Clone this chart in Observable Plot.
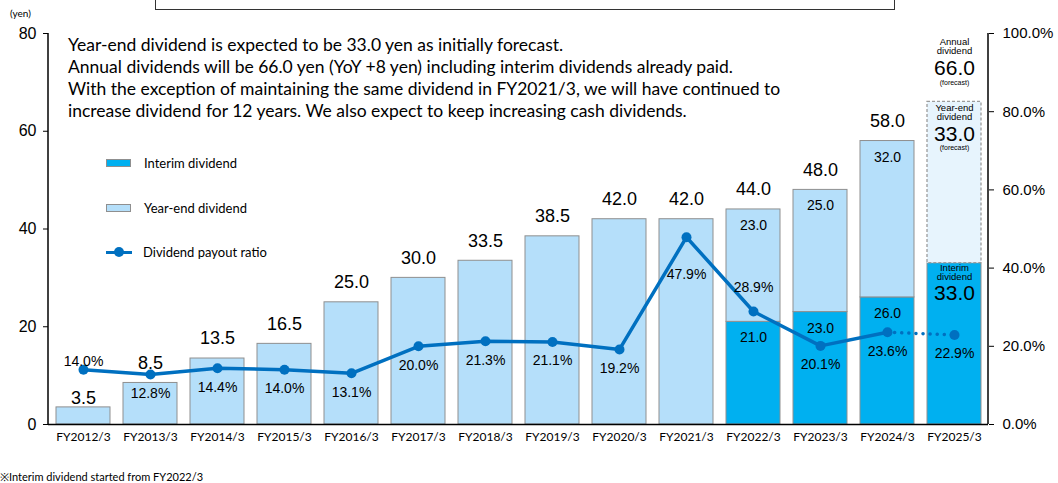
<!DOCTYPE html>
<html><head><meta charset="utf-8">
<script src="https://cdn.jsdelivr.net/npm/d3@7"></script>
<script src="https://cdn.jsdelivr.net/npm/@observablehq/plot@0.6"></script>
<style>
body{margin:0;background:#fff;}
#wrap{position:relative;width:1058px;height:483px;overflow:hidden;font-family:Lato,"Open Sans",sans-serif;color:#000;}
#chart{position:absolute;left:0;top:0;}
.ov{position:absolute;white-space:nowrap;}
#note{left:68px;top:34px;font-size:17.5px;line-height:22px;}
#yen{left:10px;top:7px;font-size:10px;}
#topbox{left:155px;top:-30px;width:738px;height:38px;border:1.5px solid #333;}
#foot{left:0;top:469px;font-size:11px;}
.leg{position:absolute;left:106px;font-size:13px;display:flex;align-items:center;}
.sw{width:23px;height:6px;border:1px solid #8f8f8f;margin-right:13px;}
.ln{position:relative;width:26px;height:3px;background:#0070C0;margin-right:11px;}
.ln::after{content:"";position:absolute;left:8px;top:-3.5px;width:10px;height:10px;border-radius:50%;background:#0070C0;}
</style></head><body><div id="wrap"></div>
<script>
const years = ["FY2012/3","FY2013/3","FY2014/3","FY2015/3","FY2016/3","FY2017/3","FY2018/3","FY2019/3","FY2020/3","FY2021/3","FY2022/3","FY2023/3","FY2024/3","FY2025/3"];
const interimDividend = [0,0,0,0,0,0,0,0,0,0,21,23,26,33];
const yearEndDividend = [3.5,8.5,13.5,16.5,25,30,33.5,38.5,42,42,23,25,32,33];
const payoutRatio = [14.0,12.8,14.4,14.0,13.1,20.0,21.3,21.1,19.2,47.9,28.9,20.1,23.6,22.9];
const forecastYear = "FY2025/3";
const leftTicks = [0,20,40,60,80];
const rightTicksPct = [0,20,40,60,80,100];
const noteLines = [
  "Year-end dividend is expected to be 33.0 yen as initially forecast.",
  "Annual dividends will be 66.0 yen (YoY +8 yen) including interim dividends already paid.",
  "With the exception of maintaining the same dividend in FY2021/3, we will have continued to",
  "increase dividend for 12 years. We also expect to keep increasing cash dividends."
];
const legendLabels = ["Interim dividend","Year-end dividend","Dividend payout ratio"];
const footnote = "※Interim dividend started from FY2022/3";

const PCT = 80/100; // right axis 100% aligns with left 80 yen
const rows = years.map((year,i)=>({
  year, i,
  interim: interimDividend[i],
  yearEnd: yearEndDividend[i],
  total: interimDividend[i] + yearEndDividend[i],
  payout: payoutRatio[i],
  py: payoutRatio[i]*PCT,
  forecast: year === forecastYear
}));
const actual = rows.filter(d=>!d.forecast);
const fc = rows.filter(d=>d.forecast);
const lastActual = actual[actual.length-1];

const C_INT="#00B0F0", C_YE="#B5DFFA", C_YEF="#E7F4FD", C_LINE="#0070C0", C_EDGE="#8f8f8f";
const F = "Liberation Sans, Arial, sans-serif";

const pctDy = d => d.i===0 ? -8 : d.year==="FY2022/3" ? -24 : d.year==="FY2021/3" ? 37 : 19;

const plot = Plot.plot({
  width:1058, height:450,
  marginLeft:48, marginRight:70, marginTop:33, marginBottom:26,
  style:{fontFamily:F, fontSize:"16px", background:"transparent", overflow:"visible"},
  x:{domain:years, paddingInner:0.2, paddingOuter:0.1},
  y:{domain:[0,80]},
  marks:[
    Plot.barY(rows.filter(d=>d.interim>0), {x:"year", y1:0, y2:"interim", fill:C_INT, stroke:C_EDGE, strokeWidth:1}),
    Plot.barY(actual, {x:"year", y1:"interim", y2:"total", fill:C_YE, stroke:C_EDGE, strokeWidth:1}),
    Plot.barY(fc, {x:"year", y1:"interim", y2:"total", fill:C_YEF, stroke:"#9c9c9c", strokeWidth:1.3, strokeDasharray:"3,2"}),
    Plot.ruleY([0], {stroke:"#000", strokeWidth:1.5}),
    Plot.axisY(leftTicks, {anchor:"left", tickSize:5, tickPadding:7, fontSize:16, label:null, fontFamily:F}),
    Plot.axisY(rightTicksPct.map(p=>p*PCT), {anchor:"right", tickSize:5, tickPadding:9, fontSize:15, label:null, fontFamily:F, tickFormat:d=>(d/PCT).toFixed(1)+"%"}),
    Plot.axisX({tickSize:0, tickPadding:8, fontSize:12, fontFamily:"Lato", label:null}),
    Plot.line(actual, {x:"year", y:"py", stroke:C_LINE, strokeWidth:3.5}),
    Plot.line([lastActual, ...fc], {x:"year", y:"py", stroke:C_LINE, strokeWidth:3.5, strokeDasharray:"0.1,7", strokeLinecap:"round"}),
    Plot.dot(rows, {x:"year", y:"py", r:5, fill:C_LINE}),
    // total labels
    Plot.text(actual.filter(d=>d.i>0), {x:"year", y:"total", text:d=>d.total.toFixed(1), dy:-20, fontSize:18, fontFamily:F}),
    Plot.text(actual.filter(d=>d.i===0), {x:"year", y:"total", text:d=>d.total.toFixed(1), dy:-9, fontSize:18, fontFamily:F}),
    // inner labels
    Plot.text(actual.filter(d=>d.interim>0), {x:"year", y:"total", text:d=>d.yearEnd.toFixed(1), dy:16, fontSize:14, fontFamily:F}),
    Plot.text(actual.filter(d=>d.interim>0), {x:"year", y:"interim", text:d=>d.interim.toFixed(1), dy:16, fontSize:14, fontFamily:F}),
    // payout labels
    ...[-24,-8,19,37].map(off => Plot.text(rows.filter(d=>pctDy(d)===off), {x:"year", y:"py", text:d=>d.payout.toFixed(1)+"%", dy:off, fontSize:14, fontFamily:F})),
    // forecast annotations
    Plot.text(fc, {x:"year", y:"total", text:()=>"Annual", dy:-60, fontSize:9.5, fontFamily:F}),
    Plot.text(fc, {x:"year", y:"total", text:()=>"dividend", dy:-50.5, fontSize:9.5, fontFamily:F}),
    Plot.text(fc, {x:"year", y:"total", text:d=>d.total.toFixed(1), dy:-34, fontSize:21, fontFamily:F}),
    Plot.text(fc, {x:"year", y:"total", text:()=>"(forecast)", dy:-19, fontSize:7, fontFamily:F}),
    Plot.text(fc, {x:"year", y:"total", text:()=>"Year-end", dy:6, fontSize:9.5, fontFamily:F}),
    Plot.text(fc, {x:"year", y:"total", text:()=>"dividend", dy:15.5, fontSize:9.5, fontFamily:F}),
    Plot.text(fc, {x:"year", y:"total", text:d=>d.yearEnd.toFixed(1), dy:32, fontSize:21, fontFamily:F}),
    Plot.text(fc, {x:"year", y:"total", text:()=>"(forecast)", dy:46, fontSize:7, fontFamily:F}),
    Plot.text(fc, {x:"year", y:"interim", text:()=>"Interim", dy:4.5, fontSize:9.5, fontFamily:F}),
    Plot.text(fc, {x:"year", y:"interim", text:()=>"dividend", dy:14, fontSize:9.5, fontFamily:F}),
    Plot.text(fc, {x:"year", y:"interim", text:d=>d.interim.toFixed(1), dy:30, fontSize:21, fontFamily:F})
  ]
});

// vertical axis lines at frame edges using the plot's own y scale
const ys = plot.scale("y");
const svg = d3.select(plot.tagName==="svg" ? plot : plot.querySelector("svg"));
[48, 1058-70].forEach(x=>{
  svg.append("line").attr("x1",x).attr("x2",x)
    .attr("y1",ys.apply(0)).attr("y2",ys.apply(80))
    .attr("stroke","#000").attr("stroke-width",1.5);
});

const wrap = document.getElementById("wrap");
plot.id = "chart";
wrap.appendChild(plot);

function add(id, html, cls="ov"){const d=document.createElement("div");d.id=id;d.className=cls;d.innerHTML=html;wrap.appendChild(d);return d;}
add("topbox","");
add("yen","(yen)");
add("note", noteLines.join("<br>"));
add("foot", footnote);
const legTops=[163,208,252];
legendLabels.forEach((t,i)=>{
  const d=document.createElement("div");d.className="leg";d.style.top=(legTops[i]-9)+"px";d.style.height="18px";
  const mk = i===2 ? '<span class="ln"></span>' : `<span class="sw" style="background:${i===0?C_INT:C_YE}"></span>`;
  d.innerHTML = mk + "<span>"+t+"</span>";
  wrap.appendChild(d);
});
</script></body></html>
